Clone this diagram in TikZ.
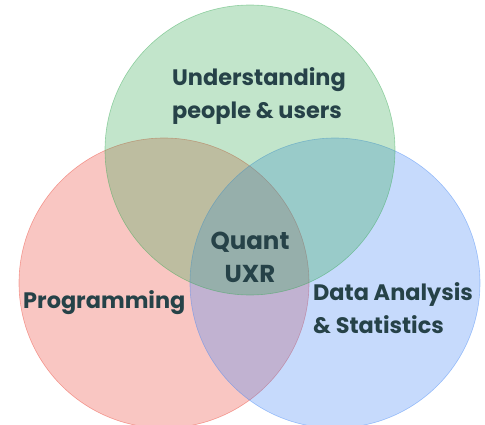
\documentclass[tikz,border=0pt]{standalone}
\usepackage{fontspec}
\setmainfont{Poppins}
\definecolor{gGreen}{HTML}{34A853}
\definecolor{gRed}{HTML}{EA4335}
\definecolor{gBlue}{HTML}{4285F4}
\definecolor{txt}{RGB}{38,66,72}
\begin{document}
\begin{tikzpicture}[x=1pt,y=-1pt,
  venn/.style={fill=#1,fill opacity=0.3,draw=#1,draw opacity=0.45,line width=0.6pt},
  lbl/.style={text=txt,inner sep=0pt,align=left,font=\fontsize{22.4}{33}\selectfont\bfseries}]
\useasboundingbox (0,0) rectangle (485,425);
\clip (0,0) rectangle (485,425);
\path[venn=gRed] (164,283) circle[radius=145];
\path[venn=gBlue] (335,283) circle[radius=145];
\path[venn=gGreen] (250,150) circle[radius=145];
\node[lbl,anchor=base west] (und) at (172,119) {Understanding\\people \& users};
\node[lbl,anchor=base west] (prog) at (23,308) {Programming};
\node[lbl,anchor=base west] (data) at (313,333) {Data Analysis\\\& Statistics};
\node[lbl,align=center,anchor=base,font=\fontsize{24.5}{33}\selectfont\bfseries] (quant) at (250,282) {Quant\\UXR};
\end{tikzpicture}
\end{document}
